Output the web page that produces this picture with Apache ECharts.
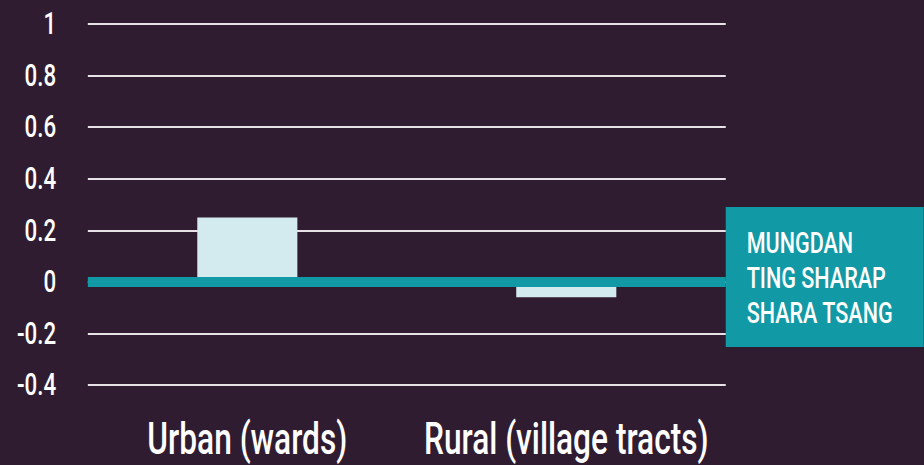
<!DOCTYPE html>
<html>
<head>
<meta charset="utf-8">
<script src="https://cdn.jsdelivr.net/npm/echarts@6/dist/echarts.min.js"></script>
<style>
  html, body { margin: 0; padding: 0; background: #301c30; overflow: hidden; }
  #chart { height: 465px; transform-origin: 0 0; }
</style>
</head>
<body>
<div id="chart"></div>
<script>
var categories = ['Urban (wards)', 'Rural (village tracts)'];
var values = [0.25, -0.06];
var yTicks = [-0.4, -0.2, 0, 0.2, 0.4, 0.6, 0.8, 1];
var boxLines = ['MUNGDAN', 'TING SHARAP', 'SHARA TSANG'];

// the original font is a tall condensed face; squeeze the whole drawing sideways
var SQUEEZE = 0.72;
var el = document.getElementById('chart');
el.style.width = (924 / SQUEEZE) + 'px';
el.style.transform = 'scaleX(' + SQUEEZE + ')';

var teal = '#1299a6';
var fontFam = 'Roboto';

// one text element per line of the teal box
var boxTexts = boxLines.map(function (line, i) {
    return {
        type: 'text',
        x: 1037, y: 243 + i * 35,
        style: {
            text: line,
            fill: '#ffffff',
            fontFamily: fontFam,
            fontWeight: 500,
            fontSize: 30,
            verticalAlign: 'middle'
        }
    };
});

var chart = echarts.init(el, null, { renderer: 'svg' });
chart.setOption({
    backgroundColor: '#301c30',
    animation: false,
    grid: { left: 122, right: 275, top: 24, bottom: 80 },
    xAxis: {
        type: 'category',
        data: categories,
        axisLine: { show: false },
        axisTick: { show: false },
        axisLabel: {
            interval: 0,
            color: '#ffffff',
            fontFamily: fontFam,
            fontWeight: 500,
            fontSize: 44,
            margin: 32
        }
    },
    yAxis: {
        type: 'value',
        min: yTicks[0],
        max: yTicks[yTicks.length - 1],
        interval: 0.2,
        axisLine: { show: false },
        axisTick: { show: false },
        axisLabel: {
            color: '#ffffff',
            fontFamily: fontFam,
            fontWeight: 500,
            fontSize: 31,
            margin: 44,
            formatter: function (v) { return String(Math.round(v * 10) / 10); }
        },
        splitLine: { lineStyle: { color: '#e6e2e6', width: 2 } }
    },
    series: [{
        type: 'bar',
        data: values,
        barWidth: 139,
        itemStyle: { color: '#d3ebef' },
        markLine: {
            silent: true,
            symbol: 'none',
            label: { show: false },
            lineStyle: { color: teal, width: 10, type: 'solid' },
            data: [{ yAxis: 0 }]
        }
    }],
    graphic: [
        {
            type: 'rect',
            x: 1008, y: 207,
            shape: { x: 0, y: 0, width: 276, height: 140 },
            style: { fill: teal }
        }
    ].concat(boxTexts)
});
</script>
</body>
</html>
